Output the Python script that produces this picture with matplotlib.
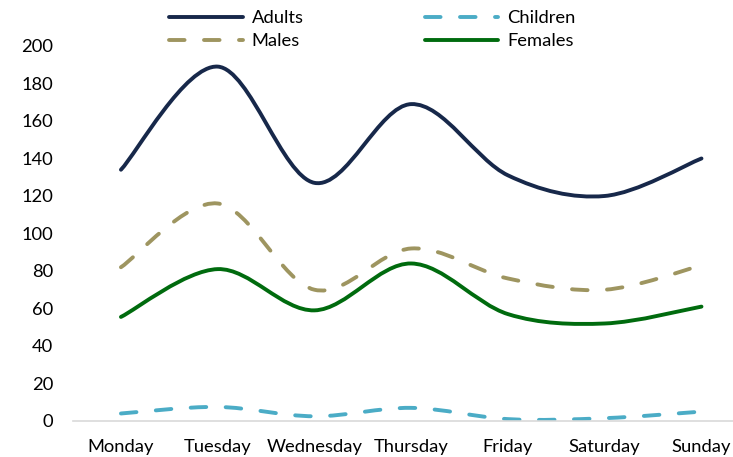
import matplotlib
matplotlib.use("Agg")
import matplotlib.pyplot as plt
from matplotlib.path import Path
from matplotlib.patches import PathPatch
from matplotlib.lines import Line2D

days = ["Monday", "Tuesday", "Wednesday", "Thursday", "Friday", "Saturday", "Sunday"]
adults = [134, 189, 127, 169, 131, 120, 140]
children = [4, 7.5, 2.5, 7, 1, 1.5, 5]
males = [82, 116, 70, 92, 76, 70, 83]
females = [55.5, 81, 59, 84, 57, 52, 61]
yticks = [0, 20, 40, 60, 80, 100, 120, 140, 160, 180, 200]

plt.rcParams["font.family"] = ["Lato", "DejaVu Sans"]


def smooth_path(xs, ys):
    # Excel-style smoothed line: cubic Bezier through each point
    pts = list(zip(xs, ys))
    n = len(pts)
    verts = [pts[0]]
    codes = [Path.MOVETO]
    for i in range(n - 1):
        p0 = pts[max(i - 1, 0)]
        p1 = pts[i]
        p2 = pts[i + 1]
        p3 = pts[min(i + 2, n - 1)]
        c1 = (p1[0] + (p2[0] - p0[0]) / 6, p1[1] + (p2[1] - p0[1]) / 6)
        c2 = (p2[0] - (p3[0] - p1[0]) / 6, p2[1] - (p3[1] - p1[1]) / 6)
        verts += [c1, c2, p2]
        codes += [Path.CURVE4] * 3
    return Path(verts, codes)


fig = plt.figure(figsize=(7.33, 4.57), dpi=100)
ax = fig.add_axes([0.099, 0.0788, 0.924, 0.8206])

dash = (0, (4, 5))
series = [
    ("Adults", adults, "#17284A", "-"),
    ("Males", males, "#9E9560", dash),
    ("Children", children, "#4BACC6", dash),
    ("Females", females, "#006B0E", "-"),
]

x = list(range(len(days)))
handles = []
for name, vals, color, ls in series:
    patch = PathPatch(smooth_path(x, vals), fill=False, edgecolor=color,
                      lw=2.8, linestyle=ls, capstyle="round", joinstyle="round")
    ax.add_patch(patch)
    handles.append(Line2D([], [], color=color, lw=2.8, linestyle=ls,
                          dash_capstyle="round", solid_capstyle="round", label=name))

ax.set_xlim(-0.5, 6.5)
ax.set_ylim(0, 200)
ax.set_xticks(x)
ax.set_xticklabels(days)
ax.set_yticks(yticks)
ax.tick_params(length=0, labelsize=13.2, colors="#000000")
ax.tick_params(axis="y", pad=14)
ax.tick_params(axis="x", pad=13)
for s in ["top", "right", "left"]:
    ax.spines[s].set_visible(False)
ax.spines["bottom"].set_color("#D9D9D9")
ax.spines["bottom"].set_linewidth(1.2)

fig.legend(handles=handles, ncol=2, loc="upper center", bbox_to_anchor=(0.508, 1.014),
           frameon=False, fontsize=13.2, handlelength=4.0, handletextpad=0.5,
           columnspacing=6.6, labelspacing=0.4)

fig.savefig("out.png", dpi=100)
